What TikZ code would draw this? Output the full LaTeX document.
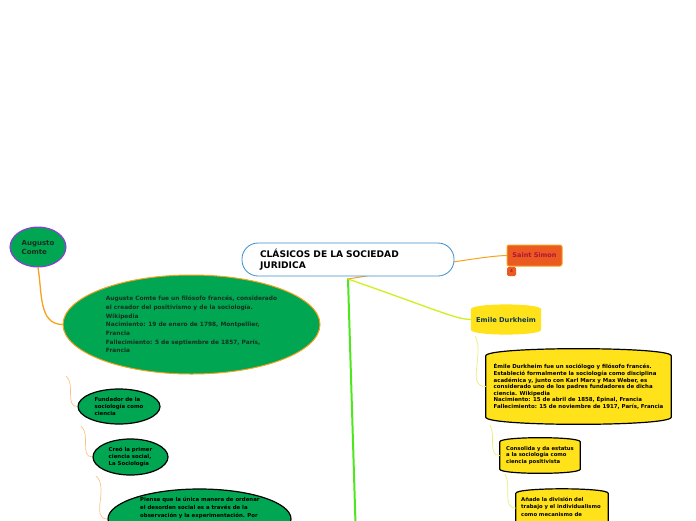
\documentclass[tikz,border=0pt]{standalone}
\usepackage{fontspec}
\setmainfont{DejaVu Sans}
\usetikzlibrary{shapes.geometric,backgrounds}

\definecolor{verde}{HTML}{00A651}
\definecolor{morado}{HTML}{9B30E8}
\definecolor{naranja}{HTML}{F7A21B}
\definecolor{naranjaclaro}{HTML}{F9C585}
\definecolor{rojizo}{HTML}{EA5A21}
\definecolor{granate}{HTML}{B3123A}
\definecolor{amarillo}{HTML}{FFE21A}
\definecolor{amarilloclaro}{HTML}{E8EE7A}
\definecolor{azul}{HTML}{3A8FD0}
\definecolor{verdevivo}{HTML}{4EE61C}
\definecolor{lima}{HTML}{CDF01E}
\definecolor{oscuro}{HTML}{15301F}
\definecolor{petroleo}{HTML}{0B3A4F}

\newcommand{\letra}[2]{\fontsize{#1}{#2}\selectfont\bfseries}

\begin{document}
\begin{tikzpicture}[x=1pt, y=-1pt,
  globo/.style={ellipse, fill=verde, inner sep=0pt, align=left},
  barril/.style={rectangle, inner sep=0pt, align=left},
  rama/.style={line cap=round},
  hilo/.style={line width=0.7pt}
]
\clip (0,0) rectangle (696,520);

% lado de Comte
\node[globo, draw=morado, line width=1pt, minimum width=56, minimum height=40,
  text=oscuro, font=\letra{7}{9}] (comte) at (38,247) {Augusto\\Comte};
\node[globo, draw=naranja, line width=1pt, minimum width=257, minimum height=99,
  text=oscuro, font=\letra{5.85}{8.7}] (bio) at (191.5,324.5)
  {Auguste Comte fue un filósofo francés, considerado\\el creador del positivismo y de la sociología.\\Wikipedia\\Nacimiento: 19 de enero de 1798, Montpellier,\\Francia\\Fallecimiento: 5 de septiembre de 1857, París,\\Francia};
\node[globo, draw=black, line width=1.2pt, minimum width=82, minimum height=35,
  font=\letra{5.4}{7}] (fundador) at (119,406.5) {Fundador de la\\sociología como\\ciencia};
\node[globo, draw=black, line width=1.2pt, minimum width=75, minimum height=36,
  font=\letra{5.4}{7}] (creo) at (130.5,457) {Creó la primer\\ciencia social,\\La Sociología};
\node[globo, draw=black, line width=1.2pt, minimum width=183, minimum height=60] (piensa) at (199.5,519) {};
\node[anchor=north west, inner sep=0pt, align=left, font=\letra{5.4}{8}] (piensatxt) at (140,497)
  {Piensa que la única manera de ordenar\\el desorden social es a través de la\\observación y la experimentación. Por};

\coordinate (c1) at (66,376);
\coordinate (c2) at (81,426);
\coordinate (c3) at (96,476);
\draw[naranja, line width=1.3pt] (comte.south) to[out=-80, in=180] (bio.west);
\draw[hilo, naranjaclaro] (c1) to[out=-40, in=180] (fundador.west);
\draw[hilo, naranjaclaro] (c2) to[out=-40, in=180] (creo.west);
\draw[hilo, naranjaclaro] (c3) to[out=-40, in=180] (piensa.west);

% lado de Durkheim
\node[barril, minimum width=70, minimum height=20, align=center, text=petroleo,
  font=\letra{6.7}{8}] (durk) at (506,319.5) {Emile Durkheim};
\node[barril, minimum width=185, minimum height=61, font=\letra{5.45}{6.6}] (durkbio) at (578.5,386.5)
  {Émile Durkheim fue un sociólogo y filósofo francés.\\Estableció formalmente la sociología como disciplina\\académica y, junto con Karl Marx y Max Weber, es\\considerado uno de los padres fundadores de dicha\\ciencia. Wikipedia\\Nacimiento: 15 de abril de 1858, Épinal, Francia\\Fallecimiento: 15 de noviembre de 1917, París, Francia};
\node[barril, minimum width=80, minimum height=27, font=\letra{5.3}{6.6}] (consolida) at (540,455.5)
  {Consolida y da estatus\\a la sociología como\\ciencia positivista};
\node[barril, minimum width=92, minimum height=53] (anade) at (562,520) {};
\node[anchor=north west, inner sep=0pt, align=left, font=\letra{5.3}{7.5}] (anadetxt) at (521,497)
  {Añade la división del\\trabajo y el individualismo\\como mecanismo de};

\begin{scope}[on background layer]
\path[fill=amarillo] (durk.north west) .. controls +(0,-6.5) and +(0,-6.5) .. (durk.north east)
  -- (durk.south east) .. controls +(0,6.5) and +(0,6.5) .. (durk.south west) -- cycle;
\foreach \n/\b in {durkbio/9.5, consolida/5.5, anade/6} {
  \path[fill=amarillo, draw=black, line width=1.2pt]
    (\n.north west) .. controls +(0,-\b) and +(0,-\b) .. (\n.north east)
    -- (\n.south east) .. controls +(0,\b) and +(0,\b) .. (\n.south west) -- cycle;
}
\end{scope}

\coordinate (d1) at (475,336);
\coordinate (d2) at (490,425);
\coordinate (d3) at (505,474);
\draw[hilo, amarilloclaro] (d1) to[out=-60, in=180] (durkbio.west);
\draw[hilo, amarilloclaro] (d2) to[out=-60, in=180] (consolida.west);
\draw[hilo, amarilloclaro] (d3) to[out=-60, in=180] (anade.west |- 508,508);

% Saint Simon
\node[rectangle, rounded corners=2pt, fill=rojizo, draw=naranja, line width=1pt,
  minimum width=55, minimum height=21, text=granate, font=\letra{6.5}{8}] (simon) at (534.5,255.5) {Saint Simon};
\node[rectangle, rounded corners=1.5pt, fill=rojizo, minimum width=9, minimum height=9, inner sep=0pt,
  text=granate, font=\letra{4}{5}] (insignia) at (511.5,271.5) {4};

% ramas desde la raiz
\coordinate (raiz) at (348,279);
\coordinate (fin) at (356,540);
\draw[rama, verdevivo, line width=2pt] (raiz) -- (fin);
\draw[rama, lima, line width=1.3pt] (raiz) .. controls (440,311) and (455,319) .. (durk.west);
\draw[rama, naranja, line width=1pt] (raiz) .. controls (470,259) and (490,256) .. (simon.west);

% tema central
\node[rectangle, rounded corners=16pt, draw=azul, line width=0.8pt, fill=white,
  minimum width=212, minimum height=33, text width=176, inner xsep=18pt, align=left,
  font=\letra{9.1}{11}] (centro) at (348,259.5) {CLÁSICOS DE LA SOCIEDAD\\JURIDICA};
\end{tikzpicture}
\end{document}
